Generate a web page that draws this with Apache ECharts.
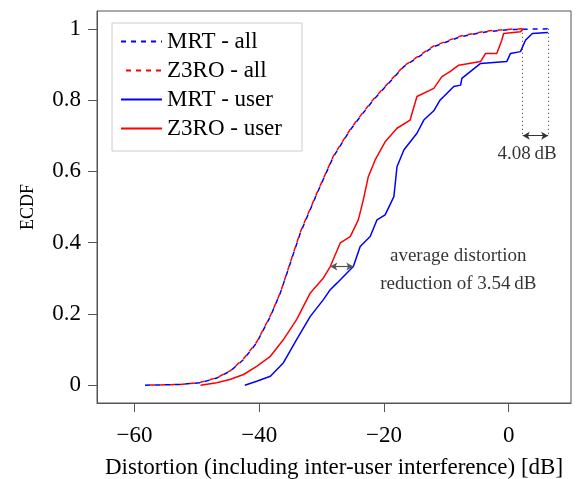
<!DOCTYPE html>
<html>
<head>
<meta charset="utf-8">
<script src="https://cdn.jsdelivr.net/npm/echarts@6/dist/echarts.min.js"></script>
<style>html,body{margin:0;padding:0;background:#fff}#c{width:587px;height:479px}</style>
</head>
<body>
<div id="c"></div>
<script>
// ---- data ----
var seriesNames = ['MRT - all', 'Z3RO - all', 'MRT - user', 'Z3RO - user'];
var xTicks = [-60, -40, -20, 0];
var yTicks = [0, 0.2, 0.4, 0.6, 0.8, 1];

var mrtAll = [[-58.3,0],[-52.7,0.002],[-49.4,0.007],[-46.8,0.02],[-44.6,0.04],[-42.5,0.072],[-40.4,0.119],[-38.2,0.193],[-36.6,0.259],[-35.0,0.343],[-33.4,0.427],[-30.7,0.539],[-28.1,0.641],[-25.4,0.716],[-23.5,0.76],[-21.7,0.80],[-16.8,0.894],[-12.0,0.950],[-7.7,0.978],[-3.5,0.992],[0.3,0.998],[6.3,1.0]];
var z3roAll = [[-58.3,0],[-52.7,0.002],[-49.4,0.008],[-46.8,0.021],[-44.6,0.041],[-42.5,0.074],[-40.4,0.121],[-38.2,0.195],[-36.6,0.26],[-35.0,0.345],[-33.4,0.43],[-30.7,0.541],[-28.1,0.643],[-25.4,0.718],[-23.5,0.762],[-21.7,0.802],[-16.8,0.896],[-12.0,0.952],[-7.7,0.98],[-3.5,0.994],[0.3,0.999],[2.4,1.0]];
var mrtUser = [[-42.3,0],[-40.4,0.011],[-38.2,0.025],[-36.1,0.063],[-34.0,0.128],[-31.8,0.193],[-29.7,0.240],[-28.6,0.268],[-27.5,0.287],[-24.9,0.333],[-23.8,0.389],[-22.2,0.417],[-21.1,0.464],[-19.8,0.478],[-18.4,0.529],[-17.9,0.613],[-16.8,0.66],[-14.7,0.707],[-13.6,0.744],[-12.0,0.77],[-11.0,0.80],[-10.4,0.81],[-8.8,0.838],[-7.7,0.842],[-7.5,0.861],[-4.5,0.903],[-0.3,0.908],[0.3,0.931],[1.9,0.936],[2.7,0.968],[3.8,0.987],[6.3,0.99]];
var z3roUser = [[-49.4,0],[-46.8,0.007],[-44.7,0.016],[-42.5,0.03],[-40.4,0.053],[-38.2,0.081],[-36.1,0.128],[-34.0,0.184],[-31.8,0.259],[-29.7,0.301],[-28.6,0.333],[-27.0,0.399],[-25.4,0.417],[-24.1,0.464],[-23.3,0.52],[-22.5,0.585],[-21.4,0.632],[-19.8,0.683],[-17.9,0.721],[-15.8,0.744],[-14.7,0.81],[-12.0,0.833],[-10.7,0.866],[-9.4,0.880],[-8.0,0.898],[-4.5,0.908],[-3.7,0.931],[-1.9,0.931],[-1.1,0.968],[-0.8,0.987],[1.9,0.992],[2.4,1.0]];

var avgArrow = [[-28.6,0.333],[-24.9,0.333]];
var gapLines = [[2.26,1.0,0.70],[6.34,1.0,0.70]];
var annotations = [[-8.07,0.362,'average distortion'],[-8.07,0.283,'reduction of 3.54\u2009dB'],[2.95,0.649,'4.08\u2009dB']];

// ---- chart ----
var FONT = '"Liberation Serif", "DejaVu Serif", serif';
var chart = echarts.init(document.getElementById('c'), null, {renderer: 'canvas'});
function minus(v){ return String(v).replace('-', '\u2212'); }

function lineSeries(name, data, color, dashed, offset){
  return {
    name: name, type: 'line', data: data, showSymbol: false, symbol: 'none',
    lineStyle: {color: color, width: 1.5, type: dashed ? [5,5] : 'solid', dashOffset: offset || 0},
    itemStyle: {color: color}, animation: false, z: 3
  };
}

var markData = [];
gapLines.forEach(function(g){
  markData.push([{coord:[g[0], g[1]], symbol:'none', lineStyle:{type:[1,3], color:'#333', width:1}},
                 {coord:[g[0], g[2]], symbol:'none'}]);
});
markData.push([{coord:[gapLines[0][0], gapLines[0][2]], symbol:'arrow', lineStyle:{type:'solid', color:'#333', width:1}},
               {coord:[gapLines[1][0], gapLines[1][2]], symbol:'arrow'}]);
markData.push([{coord:avgArrow[0], symbol:'arrow', lineStyle:{type:'solid', color:'#555', width:1.2}},
               {coord:avgArrow[1], symbol:'arrow'}]);

chart.setOption({
  animation: false,
  backgroundColor: '#fff',
  textStyle: {fontFamily: FONT},
  grid: {left: 97, right: 16, top: 11, bottom: 76, show: true, borderColor: '#555', borderWidth: 1,
         backgroundColor: 'transparent', outerBoundsMode: 'none', containLabel: false},
  legend: {
    data: seriesNames, orient: 'vertical', left: 112, top: 23,
    itemWidth: 41, itemHeight: 14, itemGap: 6,
    padding: [7, 20, 11, 8],
    itemStyle: {opacity: 0},
    borderColor: '#ccc', borderWidth: 1, backgroundColor: '#fff',
    textStyle: {fontFamily: FONT, fontSize: 23, color: '#000', lineHeight: 23}
  },
  xAxis: {
    type: 'value', min: -66, max: 10,
    splitLine: {show: false},
    axisLine: {show: true, onZero: false, lineStyle: {color: '#555'}},
    axisTick: {show: true, inside: false, length: 9, customValues: xTicks, lineStyle: {color: '#555'}},
    axisLabel: {customValues: xTicks, margin: 21, fontSize: 23, color: '#000', fontFamily: FONT, formatter: minus},
    name: 'Distortion (including inter-user interference) [dB]',
    nameLocation: 'middle', nameGap: 53,
    nameTextStyle: {fontFamily: FONT, fontSize: 23, color: '#000'}
  },
  yAxis: {
    type: 'value', min: -0.05, max: 1.05,
    splitLine: {show: false},
    axisLine: {show: true, onZero: false, lineStyle: {color: '#555'}},
    axisTick: {show: true, inside: false, length: 9, customValues: yTicks, lineStyle: {color: '#555'}},
    axisLabel: {customValues: yTicks, margin: 16, fontSize: 23, color: '#000', fontFamily: FONT, formatter: function(v){ return String(Math.round(v*10)/10); }},
    name: 'ECDF', nameLocation: 'middle', nameGap: 60, nameRotate: 90,
    nameTextStyle: {fontFamily: FONT, fontSize: 18, color: '#000'}
  },
  series: [
    lineSeries(seriesNames[0], mrtAll, '#0000ff', true, 0),
    lineSeries(seriesNames[1], z3roAll, '#ff0000', true, 5),
    lineSeries(seriesNames[2], mrtUser, '#0000ff', false),
    lineSeries(seriesNames[3], z3roUser, '#ff0000', false),
    {
      name: 'annotations', type: 'scatter', data: annotations, symbolSize: 0,
      label: {show: true, position: 'inside', formatter: function(p){ return p.data[2]; },
              fontFamily: FONT, fontSize: 19, color: '#000'},
      markLine: {silent: true, symbolSize: [6, 7], label: {show: false}, data: markData, animation: false},
      z: 4
    }
  ]
});
</script>
</body>
</html>
